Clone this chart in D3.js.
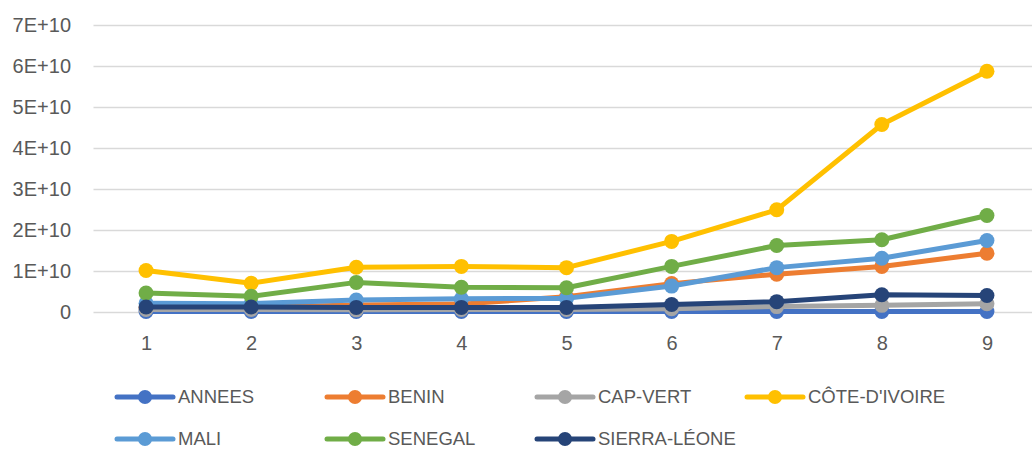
<!DOCTYPE html>
<html>
<head>
<meta charset="utf-8">
<script src="https://cdn.jsdelivr.net/npm/d3@7"></script>
<style>
  html, body { margin: 0; padding: 0; background: #ffffff; }
  svg { display: block; }
  text { font-family: "Liberation Sans", Arial, sans-serif; fill: #595959; }
</style>
</head>
<body>
<svg id="chart" width="1032" height="450"></svg>
<script>
// ---- Data ----
const categories = [1, 2, 3, 4, 5, 6, 7, 8, 9];
const yTicks = [0, 1e10, 2e10, 3e10, 4e10, 5e10, 6e10, 7e10];
const yTickLabels = ["0", "1E+10", "2E+10", "3E+10", "4E+10", "5E+10", "6E+10", "7E+10"];

const seriesNames = ["ANNEES", "BENIN", "CAP-VERT", "CÔTE-D'IVOIRE", "MALI", "SENEGAL", "SIERRA-LÉONE"];
const annees     = [2010, 2011, 2012, 2013, 2014, 2015, 2016, 2017, 2018];
const benin      = [0.10e10, 0.10e10, 0.16e10, 0.18e10, 0.36e10, 0.68e10, 0.91e10, 1.10e10, 1.42e10];
const capVert    = [0.05e10, 0.05e10, 0.04e10, 0.05e10, 0.05e10, 0.07e10, 0.12e10, 0.15e10, 0.19e10];
const coteIvoire = [1.00e10, 0.69e10, 1.08e10, 1.10e10, 1.07e10, 1.71e10, 2.48e10, 4.56e10, 5.86e10];
const mali       = [0.20e10, 0.19e10, 0.28e10, 0.31e10, 0.32e10, 0.62e10, 1.07e10, 1.30e10, 1.73e10];
const senegal    = [0.45e10, 0.37e10, 0.71e10, 0.59e10, 0.58e10, 1.10e10, 1.61e10, 1.75e10, 2.34e10];
const sierraLeone= [0.11e10, 0.11e10, 0.10e10, 0.10e10, 0.10e10, 0.17e10, 0.24e10, 0.41e10, 0.39e10];
const seriesColors = ["#4472C4", "#ED7D31", "#A5A5A5", "#FFC000", "#5B9BD5", "#70AD47", "#264478"];

const seriesValues = [annees, benin, capVert, coteIvoire, mali, senegal, sierraLeone];
const series = seriesNames.map((name, i) => ({ name, color: seriesColors[i], values: seriesValues[i] }));

// ---- Layout ----
const svg = d3.select("#chart");
const plotLeft = 93.5, plotRight = 1039.5, plotTop = 24.5, plotBottom = 311.5;

const x = d3.scalePoint().domain(categories).range([plotLeft, plotRight]).padding(0.5);
const y = d3.scaleLinear().domain([0, 7e10]).range([plotBottom, plotTop]);

// gridlines
svg.append("g").selectAll("line").data(yTicks).join("line")
  .attr("x1", plotLeft).attr("x2", 1032)
  .attr("y1", d => Math.round(y(d)) + 0.5).attr("y2", d => Math.round(y(d)) + 0.5)
  .attr("stroke", "#d9d9d9").attr("stroke-width", 1.5);

// y axis labels
const yAxis = d3.axisLeft(y).tickValues(yTicks).tickSize(0).tickPadding(0)
  .tickFormat((d, i) => yTickLabels[i]);
const yg = svg.append("g").attr("transform", "translate(71,0)").call(yAxis);
yg.select(".domain").remove();
yg.selectAll("text").attr("font-size", "20px").attr("fill", "#595959")
  .attr("font-family", "Liberation Sans, Arial, sans-serif").attr("dy", "0.35em");

// x axis labels
const xAxis = d3.axisBottom(x).tickSize(0).tickPadding(0);
const xg = svg.append("g").attr("transform", "translate(0,336)").call(xAxis);
xg.select(".domain").remove();
xg.selectAll("text").attr("font-size", "20px").attr("fill", "#595959")
  .attr("font-family", "Liberation Sans, Arial, sans-serif").attr("dy", "0.7em");

// lines + markers
const line = d3.line().x((d, i) => x(categories[i])).y(d => y(d));
const sg = svg.append("g").selectAll("g").data(series).join("g");
sg.append("path")
  .attr("d", d => line(d.values))
  .attr("fill", "none").attr("stroke", d => d.color)
  .attr("stroke-width", 5).attr("stroke-linejoin", "round").attr("stroke-linecap", "round");
sg.selectAll("circle").data(d => d.values.map((v, i) => ({ v, i, color: d.color }))).join("circle")
  .attr("cx", d => x(categories[d.i])).attr("cy", d => y(d.v))
  .attr("r", 7.5).attr("fill", d => d.color);

// legend
const legendCols = [117, 327, 537, 747];
const legendRows = [397, 439];
const lg = svg.append("g").selectAll("g").data(series).join("g")
  .attr("transform", (d, i) => `translate(${legendCols[i % 4]},${legendRows[Math.floor(i / 4)]})`);
lg.append("line").attr("x1", 0).attr("x2", 56).attr("y1", 0).attr("y2", 0)
  .attr("stroke", d => d.color).attr("stroke-width", 5).attr("stroke-linecap", "round");
lg.append("circle").attr("cx", 28).attr("cy", 0).attr("r", 7).attr("fill", d => d.color);
lg.append("text").attr("x", 61).attr("y", 0).attr("dy", "0.35em")
  .attr("font-size", "18.5px").text(d => d.name);
</script>
</body>
</html>
